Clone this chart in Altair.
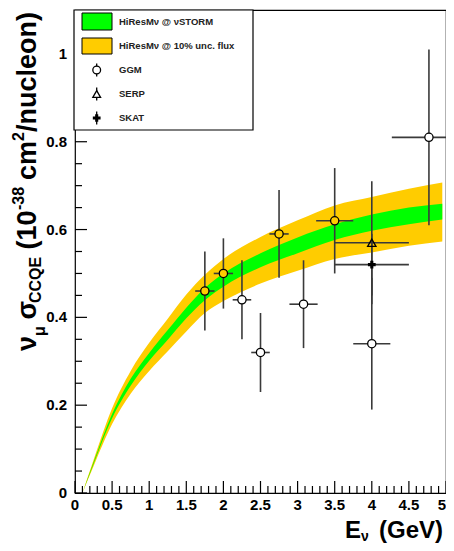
import altair as alt
import numpy as np
import pandas as pd

# ---------------- data ----------------
band_e    = [0.10, 0.25, 0.50, 0.75, 1.00, 1.25, 1.50, 1.75, 2.00, 2.50, 3.00, 3.50, 4.00, 4.50, 4.95]
yellow_lo = [0.000, 0.061, 0.157, 0.226, 0.278, 0.323, 0.368, 0.410, 0.437, 0.477, 0.506, 0.533, 0.548, 0.563, 0.573]
yellow_hi = [0.000, 0.075, 0.193, 0.278, 0.342, 0.397, 0.452, 0.497, 0.533, 0.583, 0.621, 0.655, 0.674, 0.693, 0.707]
green_lo  = [0.000, 0.066, 0.170, 0.244, 0.301, 0.349, 0.398, 0.439, 0.470, 0.514, 0.546, 0.576, 0.597, 0.612, 0.623]
green_hi  = [0.000, 0.070, 0.180, 0.260, 0.319, 0.371, 0.422, 0.467, 0.500, 0.546, 0.582, 0.612, 0.634, 0.650, 0.659]

ggm_e    = [1.75, 2.00, 2.25, 2.50, 2.75, 3.08, 3.50, 4.00, 4.77]
ggm_y    = [0.46, 0.50, 0.44, 0.32, 0.59, 0.43, 0.62, 0.34, 0.81]
ggm_ylo  = [0.37, 0.42, 0.35, 0.23, 0.49, 0.33, 0.50, 0.19, 0.61]
ggm_yhi  = [0.55, 0.58, 0.53, 0.41, 0.69, 0.53, 0.74, 0.49, 1.01]
ggm_xerr = [0.13, 0.13, 0.125, 0.125, 0.13, 0.19, 0.25, 0.25, 0.50]

serp_e, serp_y, serp_ylo, serp_yhi, serp_xerr = [4.0], [0.57], [0.43], [0.71], [0.5]
skat_e, skat_y, skat_ylo, skat_yhi, skat_xerr = [4.0], [0.52], [0.45], [0.59], [0.5]

x_labels = [0, 0.5, 1, 1.5, 2, 2.5, 3, 3.5, 4, 4.5, 5]
y_labels = [0, 0.2, 0.4, 0.6, 0.8, 1.0]
x_minor = [round(i * 0.1, 2) for i in range(51)]
y_minor = [round(i * 0.05, 2) for i in range(22)]

legend_labels = ["HiResM\u03bd @ \u03bdSTORM", "HiResM\u03bd @ 10% unc. flux", "GGM", "SERP", "SKAT"]

# ---------------- styling ----------------
FONT = "Liberation Sans"
YELLOW = "#ffcc00"
GREEN = "#00ff00"
ERR = "#3a3a3a"
W, H = 371, 483

xs = alt.Scale(domain=[0, 5], nice=False, zero=False)
ys = alt.Scale(domain=[0, 1.1], nice=False, zero=False)

def X(f):
    return alt.X(f, scale=xs, axis=None)

def Y(f):
    return alt.Y(f, scale=ys, axis=None)

band = pd.DataFrame({"e": band_e, "ylo": yellow_lo, "yhi": yellow_hi, "glo": green_lo, "ghi": green_hi})

yellow_area = alt.Chart(band).mark_area(color=YELLOW, interpolate="monotone").encode(
    x=X("e:Q"), y=Y("ylo:Q"), y2="yhi:Q")
green_area = alt.Chart(band).mark_area(color=GREEN, interpolate="monotone").encode(
    x=X("e:Q"), y=Y("glo:Q"), y2="ghi:Q")

ggm = pd.DataFrame({"e": ggm_e, "y": ggm_y, "ylo": ggm_ylo, "yhi": ggm_yhi, "xerr": ggm_xerr})
ggm["xlo"] = ggm["e"] - ggm["xerr"]
ggm["xhi"] = ggm["e"] + ggm["xerr"]
lo_at = np.interp(ggm["e"], band_e, yellow_lo)
hi_at = np.interp(ggm["e"], band_e, yellow_hi)
ggm["fill"] = np.where((ggm["y"] >= lo_at) & (ggm["y"] <= hi_at), YELLOW, "white")

def mk(ef, yf, ylof, yhif, xerrf):
    d = pd.DataFrame({"e": ef, "y": yf, "ylo": ylof, "yhi": yhif, "xerr": xerrf})
    d["xlo"] = d["e"] - d["xerr"]
    d["xhi"] = d["e"] + d["xerr"]
    return d

serp = mk(serp_e, serp_y, serp_ylo, serp_yhi, serp_xerr)
skat = mk(skat_e, skat_y, skat_ylo, skat_yhi, skat_xerr)
allpts = pd.concat([ggm.drop(columns="fill"), serp, skat], ignore_index=True)

vbars = alt.Chart(allpts).mark_rule(color=ERR, strokeWidth=1.6, clip=True).encode(
    x=X("e:Q"), y=Y("ylo:Q"), y2="yhi:Q")
hbars = alt.Chart(allpts).mark_rule(color=ERR, strokeWidth=1.6, clip=True).encode(
    x=X("xlo:Q"), x2="xhi:Q", y=Y("y:Q"))

ggm_pts = alt.Chart(ggm).mark_point(shape="circle", size=68, filled=False, stroke="black",
                                    strokeWidth=1.3, opacity=1).encode(
    x=X("e:Q"), y=Y("y:Q"), fill=alt.Fill("fill:N", scale=None))
serp_pts = alt.Chart(serp).mark_point(shape="triangle-up", size=70, stroke="black",
                                      strokeWidth=1.3, fillOpacity=0, opacity=1).encode(
    x=X("e:Q"), y=Y("y:Q"))
skat_pts = alt.Chart(skat).mark_point(shape="cross", size=60, filled=True, color="black",
                                      opacity=1).encode(x=X("e:Q"), y=Y("y:Q"))

# inward ticks
xt = pd.DataFrame({"v": x_minor})
xt["major"] = [abs(v * 2 - round(v * 2)) < 1e-6 for v in x_minor]
yt = pd.DataFrame({"v": y_minor})
yt["major"] = [abs(v * 5 - round(v * 5)) < 1e-6 for v in y_minor]

x_major_t = alt.Chart(xt[xt.major]).mark_rule(color="black", strokeWidth=1.2).encode(
    x=X("v:Q"), y=alt.value(H), y2=alt.value(H - 12))
x_minor_t = alt.Chart(xt[~xt.major]).mark_rule(color="black", strokeWidth=1.2).encode(
    x=X("v:Q"), y=alt.value(H), y2=alt.value(H - 7))
y_major_t = alt.Chart(yt[yt.major]).mark_rule(color="black", strokeWidth=1.2).encode(
    y=Y("v:Q"), x=alt.value(0), x2=alt.value(12))
y_minor_t = alt.Chart(yt[~yt.major]).mark_rule(color="black", strokeWidth=1.2).encode(
    y=Y("v:Q"), x=alt.value(0), x2=alt.value(7))

# tick labels (last x label right-aligned so it stays inside the page)
xl = pd.DataFrame({"v": x_labels, "t": [f"{v:g}" for v in x_labels]})
yl = pd.DataFrame({"v": y_labels, "t": [f"{v:g}" for v in y_labels]})
x_lab = alt.Chart(xl.iloc[:-1]).mark_text(font=FONT, fontSize=15, fontWeight="bold", color="black",
                                          align="center", baseline="top").encode(
    x=X("v:Q"), y=alt.value(H + 5), text="t:N")
x_lab_last = alt.Chart(xl.iloc[-1:]).mark_text(font=FONT, fontSize=15, fontWeight="bold",
                                               color="black", align="right", baseline="top").encode(
    x=X("v:Q"), y=alt.value(H + 5), text="t:N")
y_lab = alt.Chart(yl).mark_text(font=FONT, fontSize=15, fontWeight="bold", color="black",
                                align="right", baseline="middle").encode(
    y=Y("v:Q"), x=alt.value(-8), text="t:N")

one = pd.DataFrame({"a": [0]})

def txt(s, x, y, size, angle=0, align="left", baseline="alphabetic", weight="bold", color="black"):
    kw = dict(text=s, font=FONT, fontSize=size, fontWeight=weight, align=align,
              baseline=baseline, color=color)
    if angle:
        kw["angle"] = angle
    return alt.Chart(one).mark_text(**kw).encode(x=alt.value(x), y=alt.value(y))

# legend box
leg_box = alt.Chart(one).mark_rect(fill="white", stroke="black", strokeWidth=1.2).encode(
    x=alt.value(-1), x2=alt.value(178), y=alt.value(0), y2=alt.value(120))
sw_g = alt.Chart(one).mark_rect(fill=GREEN, stroke="black", strokeWidth=1).encode(
    x=alt.value(7), x2=alt.value(37), y=alt.value(3), y2=alt.value(20))
sw_y = alt.Chart(one).mark_rect(fill=YELLOW, stroke="black", strokeWidth=1).encode(
    x=alt.value(7), x2=alt.value(37), y=alt.value(28), y2=alt.value(44))
leg_rows = [11.5, 36, 60, 84, 108]
leg_text = [txt(legend_labels[i], 44, leg_rows[i], 9.5, baseline="middle", color="#222")
            for i in range(5)]
leg_lines = [alt.Chart(one).mark_rule(color="black", strokeWidth=1.3).encode(
    x=alt.value(21.7), y=alt.value(leg_rows[i] - 6.5), y2=alt.value(leg_rows[i] + 6.5))
    for i in (2, 3, 4)]
leg_ggm = alt.Chart(one).mark_point(shape="circle", size=60, fill="white", stroke="black",
                                    strokeWidth=1.3, opacity=1).encode(
    x=alt.value(21.7), y=alt.value(leg_rows[2]))
leg_serp = alt.Chart(one).mark_point(shape="triangle-up", size=60, fill="white", stroke="black",
                                     strokeWidth=1.3, opacity=1).encode(
    x=alt.value(21.7), y=alt.value(leg_rows[3]))
leg_skat = alt.Chart(one).mark_point(shape="cross", size=60, filled=True, color="black",
                                     opacity=1).encode(
    x=alt.value(21.7), y=alt.value(leg_rows[4]))

# axis titles (pieces for sub/superscripts)
xt_E = txt("E", 270, 528, 24)
xt_nu = txt("\u03bd", 286, 531, 14)
xt_gev = txt("(GeV)", 304, 528, 24)

Y0 = -39  # baseline of rotated title (relative x)
yt_parts = [
    txt("\u03bd", Y0, 341, 27, angle=270),
    txt("\u03bc", Y0 + 9, 326, 16, angle=270),
    txt("\u03c3", Y0, 309.5, 27, angle=270),
    txt("CCQE", Y0 + 5, 293, 16, angle=270),
    txt("(10", Y0, 239.5, 27, angle=270),
    txt("-38", Y0 - 12, 200, 16, angle=270),
    txt("cm", Y0, 170, 27, angle=270),
    txt("2", Y0 - 12, 131, 16, angle=270),
    txt("/nucleon)", Y0, 122, 27, angle=270),
]

chart = alt.layer(
    yellow_area, green_area,
    vbars, hbars, ggm_pts, serp_pts, skat_pts,
    x_major_t, x_minor_t, y_major_t, y_minor_t, x_lab, x_lab_last, y_lab,
    leg_box, sw_g, sw_y, *leg_text, *leg_lines, leg_ggm, leg_serp, leg_skat,
    xt_E, xt_nu, xt_gev, *yt_parts,
).properties(
    width=W, height=H,
    autosize=alt.AutoSizeParams(type="none"),
    padding={"left": 67, "top": 2, "right": 0, "bottom": 50},
).configure_view(stroke="black", strokeWidth=1.2)

chart.save("out.html", embed_options={"renderer": "svg", "actions": False})
